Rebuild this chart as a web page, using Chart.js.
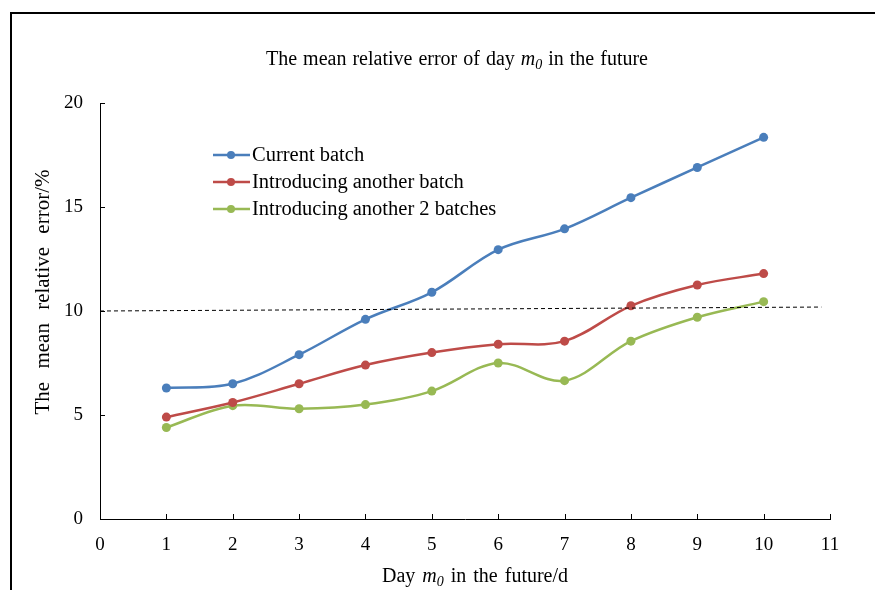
<!DOCTYPE html>
<html lang="en">
<head>
    <meta charset="UTF-8">
    <script src="https://cdn.jsdelivr.net/npm/chart.js"></script>
    <title>Mean relative error</title>
    <style>
        html, body { margin: 0; padding: 0; background: #fff; }
        #wrap { width: 875px; height: 590px; }
    </style>
</head>
<body>
    <div id="wrap"><canvas id="errChart" width="875" height="590"></canvas></div>
    <script>
        // data
        const days = [1, 2, 3, 4, 5, 6, 7, 8, 9, 10];
        const currentBatch = [6.3, 6.5, 7.9, 9.6, 10.9, 12.95, 13.95, 15.45, 16.9, 18.35];
        const anotherBatch = [4.9, 5.6, 6.5, 7.4, 8.0, 8.4, 8.55, 10.25, 11.25, 11.8];
        const another2Batches = [4.4, 5.45, 5.3, 5.5, 6.15, 7.5, 6.65, 8.55, 9.7, 10.45];
        const refLineX = [0, 10.87];
        const refLineY = [10, 10.19];
        const xTicks = [0, 1, 2, 3, 4, 5, 6, 7, 8, 9, 10, 11];
        const yTicks = [0, 5, 10, 15, 20];

        const seriesNames = ['Current batch', 'Introducing another batch', 'Introducing another 2 batches'];
        const seriesColors = ['#4A7EBB', '#BE4B48', '#98B954'];
        const serif = '"Liberation Serif", "Times New Roman", serif';

        function toPoints(xs, ys) {
            return xs.map((x, i) => ({ x: x, y: ys[i] }));
        }

        function fontOf(p, size) {
            return (p.italic ? 'italic ' : '') + (p.sub ? size * 0.7 : size) + 'px ' + serif;
        }

        // width of a piece of text with extra space between words
        function spacedWidth(ctx, t, gap) {
            const n = t.split(' ').length - 1;
            return ctx.measureText(t).width + n * gap;
        }

        // draws text pieces, some italic / subscript, centred on cx
        function drawRich(ctx, parts, cx, cy, size, gap) {
            let total = 0;
            parts.forEach(p => {
                ctx.font = fontOf(p, size);
                p.w = spacedWidth(ctx, p.t, gap);
                total += p.w;
            });
            let x = cx - total / 2;
            ctx.textAlign = 'left';
            ctx.textBaseline = 'alphabetic';
            parts.forEach(p => {
                ctx.font = fontOf(p, size);
                const sp = ctx.measureText(' ').width + gap;
                const y = cy + size * 0.33 + (p.sub ? size * 0.22 : 0);
                let wx = x;
                p.t.split(' ').forEach((word, i, arr) => {
                    ctx.fillText(word, wx, y);
                    wx += ctx.measureText(word).width + (i < arr.length - 1 ? sp : 0);
                });
                x += p.w;
            });
        }

        const decorPlugin = {
            id: 'decor',
            beforeDraw(chart) {
                const ctx = chart.ctx;
                ctx.save();
                ctx.fillStyle = '#fff';
                ctx.fillRect(0, 0, chart.width, chart.height);
                // outer frame
                ctx.strokeStyle = '#000';
                ctx.lineWidth = 2;
                ctx.beginPath();
                ctx.moveTo(11, chart.height + 2);
                ctx.lineTo(11, 13);
                ctx.lineTo(chart.width + 2, 13);
                ctx.stroke();
                ctx.restore();
            },
            afterDraw(chart) {
                const ctx = chart.ctx;
                const xs = chart.scales.x, ys = chart.scales.y;
                ctx.save();
                ctx.fillStyle = '#000';
                drawRich(ctx, [
                    { t: 'The mean relative error of day ' },
                    { t: 'm', italic: true },
                    { t: '0', italic: true, sub: true },
                    { t: ' in the future' }
                ], 457, 58, 20, 1);
                drawRich(ctx, [
                    { t: 'Day ' },
                    { t: 'm', italic: true },
                    { t: '0', italic: true, sub: true },
                    { t: ' in the future/d' }
                ], 475, 575, 20, 2);

                // y axis title
                ctx.save();
                ctx.translate(42, 292);
                ctx.rotate(-Math.PI / 2);
                drawRich(ctx, [{ t: 'The mean relative error/%' }], 0, 0, 21, 8);
                ctx.restore();

                // inside tick marks
                ctx.strokeStyle = '#000';
                ctx.lineWidth = 1;
                ctx.beginPath();
                xTicks.forEach(v => {
                    const px = Math.round(xs.getPixelForValue(v)) + 0.5;
                    ctx.moveTo(px, ys.bottom);
                    ctx.lineTo(px, ys.bottom - 5);
                });
                yTicks.forEach(v => {
                    const py = Math.round(ys.getPixelForValue(v)) + 0.5;
                    ctx.moveTo(xs.left, py);
                    ctx.lineTo(xs.left + 5, py);
                });
                ctx.stroke();

                // legend
                seriesNames.forEach((name, i) => {
                    const y = 155 + i * 27;
                    ctx.strokeStyle = seriesColors[i];
                    ctx.fillStyle = seriesColors[i];
                    ctx.lineWidth = 2.5;
                    ctx.beginPath();
                    ctx.moveTo(213, y);
                    ctx.lineTo(250, y);
                    ctx.stroke();
                    ctx.beginPath();
                    ctx.arc(231, y, 4, 0, Math.PI * 2);
                    ctx.fill();
                    ctx.fillStyle = '#000';
                    ctx.font = '20.5px ' + serif;
                    ctx.textAlign = 'left';
                    ctx.textBaseline = 'middle';
                    ctx.fillText(name, 252, y + 1);
                });
                ctx.restore();
            }
        };

        function lineSet(label, values, color) {
            return {
                label: label,
                data: toPoints(days, values),
                borderColor: color,
                backgroundColor: color,
                borderWidth: 2.5,
                pointRadius: 4.5,
                pointHoverRadius: 4.5,
                pointBorderWidth: 0,
                tension: 0.35
            };
        }

        new Chart(document.getElementById('errChart'), {
            type: 'line',
            data: {
                datasets: [
                    {
                        label: 'ref',
                        data: toPoints(refLineX, refLineY),
                        borderColor: '#000',
                        borderWidth: 1,
                        borderDash: [4, 3],
                        pointRadius: 0,
                        tension: 0
                    },
                    lineSet(seriesNames[0], currentBatch, seriesColors[0]),
                    lineSet(seriesNames[1], anotherBatch, seriesColors[1]),
                    lineSet(seriesNames[2], another2Batches, seriesColors[2])
                ]
            },
            options: {
                responsive: false,
                animation: false,
                layout: { padding: { left: 0, top: 103, right: 45, bottom: 0 } },
                plugins: {
                    legend: { display: false },
                    tooltip: { enabled: false }
                },
                scales: {
                    x: {
                        type: 'linear',
                        min: 0,
                        max: 11,
                        afterFit(scale) { scale.height = 71; },
                        afterBuildTicks(scale) { scale.ticks = xTicks.map(v => ({ value: v })); },
                        grid: { display: false, drawTicks: false },
                        border: { display: true, color: '#000', width: 1 },
                        ticks: {
                            color: '#000',
                            padding: 15,
                            maxRotation: 0,
                            font: { family: serif, size: 19 }
                        }
                    },
                    y: {
                        min: 0,
                        max: 20,
                        afterFit(scale) { scale.width = 100; },
                        afterBuildTicks(scale) { scale.ticks = yTicks.map(v => ({ value: v })); },
                        grid: { display: false, drawTicks: false },
                        border: { display: true, color: '#000', width: 1 },
                        ticks: {
                            color: '#000',
                            padding: 17,
                            font: { family: serif, size: 19 }
                        }
                    }
                }
            },
            plugins: [decorPlugin]
        });
    </script>
</body>
</html>
